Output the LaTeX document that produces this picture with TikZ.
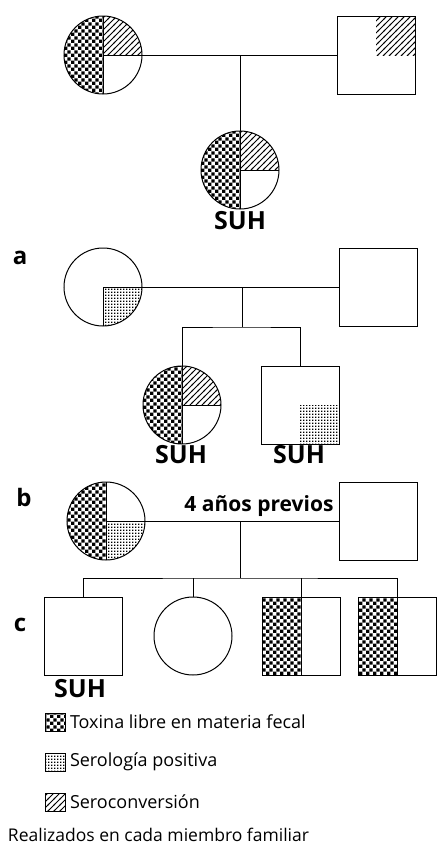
\documentclass[tikz,border=0pt]{standalone}
\usepackage{fontspec}
\setmainfont{Open Sans}
\usetikzlibrary{patterns.meta,backgrounds}
\tikzdeclarepattern{name=chk,type=uncolored,bounding box={(0pt,0pt) and (7.2pt,7.2pt)},tile size={(7.2pt,7.2pt)},
  code={\fill (0pt,0pt) rectangle (3.6pt,3.6pt); \fill (3.6pt,3.6pt) rectangle (7.2pt,7.2pt);}}
\tikzdeclarepattern{name=dts,type=uncolored,bounding box={(0pt,0pt) and (3.3pt,3.3pt)},tile size={(3.3pt,3.3pt)},
  code={\fill (0pt,0pt) rectangle (1.6pt,1.6pt);}}
\tikzdeclarepattern{name=htc,type=uncolored,bounding box={(-1pt,-1pt) and (7pt,7pt)},tile size={(6pt,6pt)},
  code={\draw[line width=0.75pt] (-1pt,-1pt) -- (7pt,7pt);}}
\begin{document}
\begin{tikzpicture}[x=1pt,y=-1pt,
  every node/.style={outer sep=0pt},
  fem/.style={circle,draw,line width=1pt,minimum size=78pt,inner sep=0pt},
  mal/.style={rectangle,draw,line width=1pt,minimum size=78pt,inner sep=0pt},
  lnk/.style={line width=1pt},
  suh/.style={font=\bfseries\fontsize{25}{25}\selectfont,inner sep=0pt},
  gen/.style={font=\bfseries\fontsize{24}{24}\selectfont,inner sep=0pt},
  leg/.style={font=\fontsize{18}{18}\selectfont,anchor=west,inner sep=0pt},
  legbox/.style={rectangle,draw,line width=0.8pt,minimum width=20pt,minimum height=18pt,inner sep=0pt},
  ck/.style={pattern=chk}, dt/.style={pattern=dts}, hc/.style={pattern=htc}]
\useasboundingbox (0,0) rectangle (437,847);
% generation 1
\node[fem] (m1) at (103,55) {};
\node[mal] (f1) at (376,55) {};
\node[fem] (c1) at (240,170) {};
\node[suh] (l1) at (240,221) {SUH};
% a
\node[gen] (ga) at (20,258) {a};
\node[fem] (m2) at (103,287) {};
\node[mal] (f2) at (378,287) {};
\coordinate (j2) at (242,327);
\node[fem] (c2a) at (182,405) {};
\node[mal] (c2b) at (300,405) {};
\node[suh] (l2a) at (181,455) {SUH};
\node[suh] (l2b) at (299,455) {SUH};
% b
\node[gen] (gb) at (24,497) {b};
\node[fem] (m3) at (106,521) {};
\node[mal] (f3) at (378,521) {};
\node[font=\bfseries\fontsize{21}{21}\selectfont,inner sep=0pt] (yr) at (259,506) {4 años previos};
\coordinate (j3) at (240,578);
% c
\node[gen] (gc) at (20,625) {c};
\node[mal] (s1) at (83,636) {};
\node[fem] (s2) at (193,636) {};
\node[mal] (s3) at (301,636) {};
\node[mal] (s4) at (397,636) {};
\node[suh] (l3) at (80,689) {SUH};
% legend
\node[legbox,ck] (k1) at (55,722) {};
\node[leg] (t1) at (70,722) {Toxina libre en materia fecal};
\node[legbox,dt] (k2) at (55,762) {};
\node[leg] (t2) at (70,762) {Serología positiva};
\node[legbox,hc] (k3) at (55,802) {};
\node[leg] (t3) at (70,802) {Seroconversión};
\node[leg,font=\fontsize{17.5}{17.5}\selectfont] (t4) at (8,835) {Realizados en cada miembro familiar};

\begin{scope}[on background layer]
\fill[white] (0,0) rectangle (437,847);
% m1
\path[ck] (m1.north) arc[start angle=90,end angle=270,radius=39pt] -- cycle;
\path[hc] (m1.center) -- (m1.east) arc[start angle=0,end angle=90,radius=39pt] -- cycle;
\path[hc] (f1.center) rectangle (f1.north east);
% c1
\path[ck] (c1.north) arc[start angle=90,end angle=270,radius=39pt] -- cycle;
\path[hc] (c1.center) -- (c1.east) arc[start angle=0,end angle=90,radius=39pt] -- cycle;
% m2
\path[dt] (m2.center) -- (m2.south) arc[start angle=270,end angle=360,radius=39pt] -- cycle;
% c2a
\path[ck] (c2a.north) arc[start angle=90,end angle=270,radius=39pt] -- cycle;
\path[hc] (c2a.center) -- (c2a.east) arc[start angle=0,end angle=90,radius=39pt] -- cycle;
% c2b
\path[dt] (c2b.center) rectangle (c2b.south east);
% m3
\path[ck] (m3.north) arc[start angle=90,end angle=270,radius=39pt] -- cycle;
\path[dt] (m3.center) -- (m3.south) arc[start angle=270,end angle=360,radius=39pt] -- cycle;
% s3, s4
\path[ck] (s3.north west) rectangle (s3.south);
\path[ck] (s4.north west) rectangle (s4.south);
\end{scope}

% internal dividing lines
\draw[lnk] (m1.north) -- (m1.south) (m1.center) -- (m1.east);
\draw[lnk] (c1.north) -- (c1.south) (c1.center) -- (c1.east);
\draw[lnk] (m2.center) -- (m2.south) (m2.center) -- (m2.east);
\draw[lnk] (c2a.north) -- (c2a.south) (c2a.center) -- (c2a.east);
\draw[lnk] (m3.north) -- (m3.south) (m3.center) -- (m3.east);
\draw[lnk] (s3.north) -- (s3.south);
\draw[lnk] (s4.north) -- (s4.south);

% connectors
\draw[lnk] (m1.east) -- (f1.west);
\draw[lnk] (c1.north |- m1.east) -- (c1.north);
\draw[lnk] (m2.east) -- (f2.west);
\draw[lnk] (j2 |- m2.east) -- (j2);
\draw[lnk] (c2a.north) |- (j2) -| (c2b.north);
\draw[lnk] (m3.east) -- (f3.west);
\draw[lnk] (j3 |- m3.east) -- (j3);
\draw[lnk] (s1.north) |- (j3) -| (s4.north);
\draw[lnk] (s2.north) -- (s2.north |- j3);
\draw[lnk] (s3.north) -- (s3.north |- j3);
\end{tikzpicture}
\end{document}
